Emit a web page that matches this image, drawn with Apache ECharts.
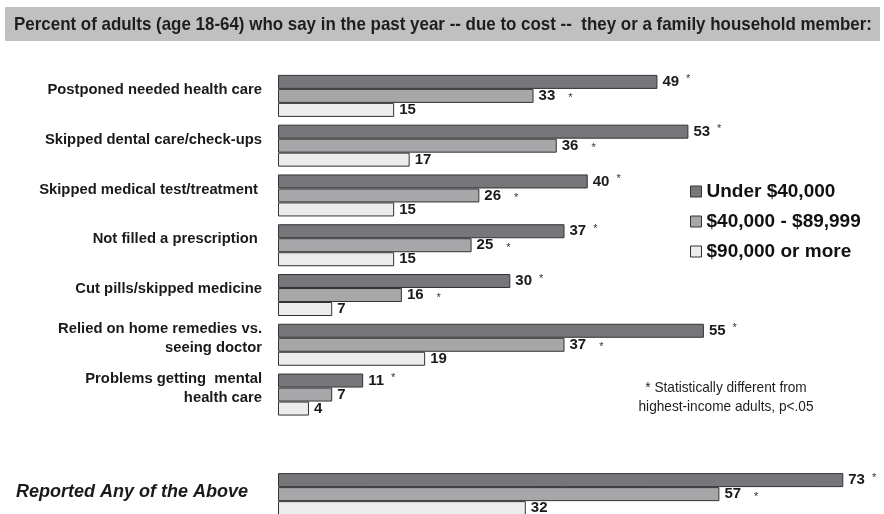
<!DOCTYPE html>
<html>
<head>
<meta charset="utf-8">
<script src="https://cdn.jsdelivr.net/npm/echarts@6/dist/echarts.min.js"></script>
<style>html,body{margin:0;padding:0;background:#fff;}#c{width:884px;height:514px;}</style>
</head>
<body>
<div id="c"></div>
<script>
var categories = ['Postponed needed health care', 'Skipped dental care/check-ups', 'Skipped medical test/treatment ', 'Not filled a prescription ', 'Cut pills/skipped medicine', 'Relied on home remedies vs.\nseeing doctor', 'Problems getting  mental\nhealth care', '', 'Reported Any of the Above'];
var seriesNames = ['Under $40,000', '$40,000 - $89,999', '$90,000 or more'];
var under40 = [49, 53, 40, 37, 30, 55, 11, null, 73];
var mid40to90 = [33, 36, 26, 25, 16, 37, 7, null, 57];
var over90 = [15, 17, 15, 15, 7, 19, 4, null, 32];
var sigUnder40 = [1, 1, 1, 1, 1, 1, 1, 0, 1];
var sigMid = [1, 1, 1, 1, 1, 1, 0, 0, 1];
var sigOver90 = [0, 0, 0, 0, 0, 0, 0, 0, 0];
var titleText = 'Percent of adults (age 18-64) who say in the past year -- due to cost --  they or a family household member:';
var footnoteLines = ['* Statistically different from', 'highest-income adults, p<.05'];

var SANS = "'Liberation Sans', Arial, sans-serif";
var colors = ['#77777b', '#a7a7aa', '#ececec'];

// measure text to emulate a condensed face by horizontal scaling
var mctx = document.createElement('canvas').getContext('2d');
function textW(txt, font) { mctx.font = font; return mctx.measureText(txt).width; }
var titleFont = 'bold 18.5px ' + SANS;
var titleScale = 858 / textW(titleText, titleFont);
var footFont = '14.5px ' + SANS;
var footScale = 175 / textW(footnoteLines[1], footFont);

function mkSeries(i, vals, sig, starStyle) {
  return {
    name: seriesNames[i],
    type: 'bar',
    data: vals,
    barWidth: 14,
    barGap: '0%',
    itemStyle: { color: colors[i], borderColor: '#333', borderWidth: 1 },
    label: {
      show: true,
      position: 'right',
      distance: 5,
      formatter: function (p) {
        if (p.value == null) return '';
        return '{v|' + p.value + '}' + (sig[p.dataIndex] ? '{s|*}' : '');
      },
      rich: {
        v: { fontFamily: SANS, fontWeight: 'bold', fontSize: 15, color: '#1a1a1a', lineHeight: 16 },
        s: starStyle
      }
    }
  };
}

var chart = echarts.init(document.getElementById('c'), null, { renderer: 'canvas' });
chart.setOption({
  animation: false,
  backgroundColor: '#fff',
  grid: { left: 278, right: 2, top: 71, height: 448, containLabel: false, outerBoundsMode: 'none' },
  xAxis: { type: 'value', min: 0, max: 78, show: false },
  yAxis: {
    type: 'category',
    inverse: true,
    data: categories,
    axisLine: { show: false },
    axisTick: { show: false },
    axisLabel: {
      margin: 16,
      fontFamily: SANS,
      fontWeight: 'bold',
      fontSize: 14.8,
      color: '#1a1a1a',
      lineHeight: 19,
      padding: [0, 0, 12, 0],
      formatter: function (v) {
        if (v === 'Reported Any of the Above') return '{r|' + v + '}';
        return v;
      },
      rich: {
        r: { fontFamily: SANS, fontStyle: 'italic', fontWeight: 'bold', fontSize: 18, color: '#1a1a1a', padding: [8, 14, 0, 0] }
      }
    }
  },
  legend: {
    orient: 'vertical',
    left: 685,
    top: 177,
    itemWidth: 11,
    itemHeight: 11,
    itemGap: 11,
    icon: 'rect',
    textStyle: { fontFamily: SANS, fontWeight: 'bold', fontSize: 19, lineHeight: 19, color: '#111' },
    data: seriesNames.map(function (n, i) { return { name: n, itemStyle: { color: colors[i], borderColor: '#333', borderWidth: 1 } }; })
  },
  graphic: [
    { type: 'rect', shape: { x: 5, y: 7, width: 875, height: 34 }, style: { fill: '#c0c0c0' }, z: 0 },
    { type: 'text', x: 14, y: 25, scaleX: titleScale, style: { text: titleText, font: titleFont, fill: '#1e1e1e', verticalAlign: 'middle' }, z: 1 },
    { type: 'text', x: 726, y: 397, scaleX: footScale, style: { text: footnoteLines.join('\n'), font: footFont, lineHeight: 19, fill: '#1e1e1e', align: 'center', verticalAlign: 'middle' }, z: 1 }
  ],
  series: [
    mkSeries(0, under40, sigUnder40, { fontFamily: SANS, fontSize: 11, color: '#333', verticalAlign: 'top', padding: [0, 0, 4, 7] }),
    mkSeries(1, mid40to90, sigMid, { fontFamily: SANS, fontSize: 11, color: '#333', verticalAlign: 'bottom', padding: [0, 0, 0, 13] }),
    mkSeries(2, over90, sigOver90, { fontSize: 9 })
  ]
});
</script>
</body>
</html>
